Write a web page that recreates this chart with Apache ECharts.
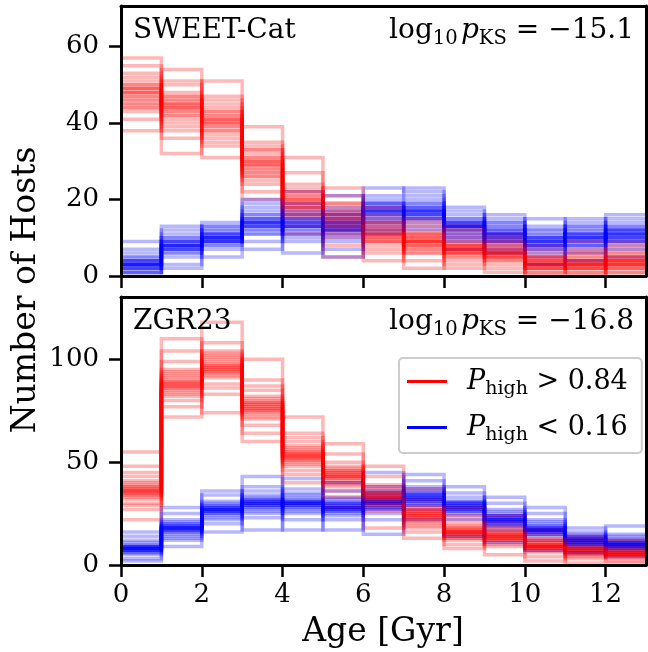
<!DOCTYPE html>
<html>
<head>
<meta charset="utf-8">
<script src="https://cdn.jsdelivr.net/npm/echarts@6/dist/echarts.min.js"></script>
<style>
  html, body { margin: 0; padding: 0; background: #fff; }
  #chart { width: 648px; height: 652px; }
</style>
</head>
<body>
<div id="chart"></div>
<script>
// Age bins (Gyr): 13 one-Gyr bins from 0 to 13
const AGE_EDGES = [0, 1, 2, 3, 4, 5, 6, 7, 8, 9, 10, 11, 12, 13];
const X_TICKS = [0, 2, 4, 6, 8, 10, 12];
const Y_TICKS_SWEET = [0, 20, 40, 60];
const Y_TICKS_ZGR = [0, 50, 100];
const Y_MAX_SWEET = 70.6;
const Y_MAX_ZGR = 130.3;
const PANEL_LABELS = ['SWEET-Cat', 'ZGR23'];
const LOG_PKS = ['\u221215.1', '\u221216.8'];

// Host counts per age bin; each row is one bin, column r is realization r.
// SWEET-Cat, P_high > 0.84
const SWEET_HIGH = [
  [48, 45, 52, 47, 41, 50, 49, 44, 55, 46, 48, 51, 43, 47, 38, 49, 46, 53, 50, 45, 48, 57, 44, 49],
  [42, 47, 44, 39, 50, 45, 36, 43, 46, 41, 54, 44, 48, 40, 45, 32, 43, 47, 42, 51, 44, 38, 46, 45],
  [41, 37, 43, 40, 34, 45, 39, 42, 38, 47, 40, 31, 44, 41, 36, 39, 51, 42, 38, 40, 43, 35, 41, 46],
  [30, 26, 33, 28, 24, 31, 29, 35, 27, 22, 30, 32, 28, 39, 25, 29, 31, 20, 27, 34, 29, 26, 30, 33],
  [18, 21, 16, 20, 24, 17, 19, 13, 22, 18, 27, 20, 15, 19, 23, 11, 18, 21, 17, 31, 19, 16, 20, 22],
  [14, 17, 12, 15, 19, 10, 16, 14, 21, 13, 15, 8, 17, 16, 12, 23, 14, 18, 11, 15, 5, 16, 13, 19],
  [10, 13, 8, 11, 15, 9, 12, 11, 6, 14, 10, 18, 12, 7, 11, 13, 9, 16, 4, 12, 10, 14, 11, 9],
  [10, 7, 9, 12, 8, 11, 6, 9, 14, 8, 10, 4, 9, 11, 7, 13, 9, 2, 10, 8, 15, 9, 6, 11],
  [6, 8, 7, 5, 9, 7, 11, 6, 3, 8, 7, 10, 5, 13, 7, 6, 9, 4, 8, 2, 7, 12, 6, 8],
  [7, 5, 6, 9, 4, 6, 3, 8, 6, 11, 5, 7, 2, 6, 8, 5, 10, 4, 6, 1, 7, 5, 9, 6],
  [3, 4, 2, 3, 6, 1, 4, 2, 0, 5, 3, 8, 3, 2, 4, 5, 1, 7, 0, 3, 2, 5, 4, 3],
  [2, 4, 3, 1, 5, 3, 2, 6, 0, 4, 3, 9, 2, 3, 5, 1, 4, 7, 0, 3, 2, 4, 6, 3],
  [4, 3, 5, 2, 6, 3, 4, 1, 7, 3, 2, 9, 4, 5, 0, 3, 4, 6, 1, 3, 5, 2, 4, 8]
];
// SWEET-Cat, P_high < 0.16
const SWEET_LOW = [
  [3, 2, 4, 3, 1, 5, 2, 3, 7, 4, 0, 3, 2, 6, 3, 1, 4, 9, 2, 3, 5, 1, 3, 4],
  [8, 7, 9, 6, 10, 8, 5, 9, 12, 7, 8, 3, 9, 11, 7, 8, 6, 13, 8, 2, 9, 7, 10, 8],
  [10, 9, 11, 10, 8, 12, 9, 13, 10, 7, 11, 10, 9, 14, 11, 5, 10, 12, 9, 8, 11, 10, 13, 9],
  [13, 15, 14, 12, 17, 14, 11, 16, 13, 19, 14, 9, 15, 13, 16, 7, 14, 12, 18, 15, 13, 20, 14, 11],
  [14, 12, 16, 13, 15, 10, 14, 18, 13, 11, 15, 22, 14, 9, 16, 13, 12, 19, 6, 14, 15, 11, 17, 13],
  [12, 14, 11, 13, 16, 9, 13, 15, 12, 18, 10, 13, 14, 21, 12, 7, 15, 11, 13, 17, 5, 14, 12, 16],
  [17, 16, 19, 15, 18, 17, 14, 20, 16, 13, 18, 17, 23, 15, 19, 11, 17, 16, 21, 14, 18, 17, 12, 19],
  [16, 18, 17, 15, 19, 17, 14, 20, 16, 18, 13, 17, 22, 16, 19, 15, 12, 17, 21, 18, 16, 23, 17, 15],
  [14, 11, 13, 16, 12, 13, 10, 15, 13, 7, 14, 12, 17, 13, 11, 14, 9, 13, 18, 12, 15, 13, 10, 14],
  [12, 9, 11, 14, 10, 8, 13, 11, 16, 10, 12, 6, 11, 9, 13, 10, 15, 11, 7, 12, 10, 14, 9, 11],
  [8, 10, 12, 9, 7, 11, 9, 5, 10, 8, 13, 9, 3, 10, 8, 11, 9, 15, 7, 9, 12, 6, 10, 8],
  [11, 9, 10, 13, 8, 10, 12, 7, 11, 15, 9, 10, 6, 12, 10, 8, 11, 4, 13, 9, 10, 14, 11, 8],
  [10, 12, 11, 8, 14, 11, 9, 13, 5, 12, 10, 11, 15, 9, 12, 10, 7, 11, 13, 16, 10, 11, 9, 12]
];
// ZGR23, P_high > 0.84
const ZGR_HIGH = [
  [36, 33, 40, 35, 30, 38, 43, 34, 37, 27, 39, 36, 48, 32, 35, 41, 22, 37, 34, 45, 38, 29, 55, 36],
  [88, 84, 92, 86, 95, 80, 89, 91, 77, 87, 99, 85, 90, 82, 88, 104, 72, 93, 86, 89, 110, 83, 94, 87],
  [97, 92, 101, 95, 88, 104, 96, 99, 83, 94, 108, 97, 91, 100, 74, 96, 103, 93, 118, 98, 86, 95, 102, 94],
  [76, 80, 73, 78, 85, 71, 77, 82, 68, 79, 75, 90, 77, 64, 81, 74, 78, 100, 72, 76, 87, 60, 79, 75],
  [54, 50, 57, 52, 48, 60, 53, 46, 55, 51, 64, 53, 44, 56, 52, 72, 49, 54, 58, 40, 53, 51, 62, 55],
  [42, 45, 40, 47, 43, 38, 50, 44, 36, 46, 41, 54, 43, 33, 45, 42, 48, 28, 44, 59, 40, 46, 43, 39],
  [31, 35, 33, 28, 38, 34, 30, 36, 43, 33, 26, 35, 32, 39, 33, 18, 34, 30, 37, 33, 48, 29, 35, 32],
  [23, 26, 21, 25, 29, 20, 24, 27, 18, 25, 22, 32, 24, 16, 26, 23, 37, 19, 24, 13, 27, 22, 25, 28],
  [15, 18, 16, 13, 20, 16, 14, 17, 10, 22, 16, 19, 8, 15, 17, 14, 24, 16, 12, 18, 15, 28, 16, 13],
  [13, 15, 12, 16, 14, 19, 11, 14, 17, 9, 15, 13, 21, 14, 10, 16, 12, 24, 14, 5, 15, 13, 18, 12],
  [9, 8, 11, 7, 10, 13, 9, 6, 10, 8, 15, 9, 4, 11, 9, 12, 7, 17, 9, 2, 10, 8, 12, 9],
  [7, 6, 8, 5, 9, 7, 11, 6, 8, 4, 7, 10, 6, 14, 7, 3, 8, 6, 12, 7, 1, 8, 5, 9],
  [6, 5, 7, 4, 6, 8, 5, 3, 6, 9, 5, 7, 2, 6, 10, 5, 4, 7, 12, 6, 1, 5, 8, 6]
];
// ZGR23, P_high < 0.16
const ZGR_LOW = [
  [8, 7, 9, 6, 10, 8, 5, 9, 12, 7, 8, 3, 9, 11, 7, 8, 6, 14, 8, 2, 9, 7, 16, 8],
  [18, 16, 20, 17, 19, 14, 18, 22, 17, 12, 19, 18, 25, 16, 20, 9, 18, 21, 15, 28, 17, 19, 13, 18],
  [26, 28, 25, 29, 27, 23, 31, 27, 24, 30, 26, 34, 27, 20, 28, 25, 29, 16, 27, 36, 26, 28, 22, 27],
  [31, 28, 30, 33, 29, 26, 32, 30, 36, 28, 31, 23, 30, 34, 29, 17, 31, 27, 38, 30, 43, 29, 25, 32],
  [29, 32, 30, 27, 34, 30, 25, 31, 29, 37, 28, 30, 22, 33, 30, 42, 28, 31, 17, 30, 35, 29, 26, 31],
  [28, 26, 30, 27, 29, 24, 31, 28, 33, 27, 22, 29, 28, 36, 26, 30, 17, 28, 32, 25, 40, 28, 27, 30],
  [30, 33, 28, 31, 27, 35, 30, 25, 32, 29, 38, 30, 22, 31, 34, 28, 45, 30, 15, 32, 29, 36, 27, 31],
  [32, 34, 31, 35, 33, 29, 36, 32, 38, 31, 27, 34, 33, 41, 30, 35, 22, 33, 37, 31, 44, 32, 29, 34],
  [27, 30, 28, 25, 31, 28, 33, 26, 29, 22, 30, 28, 35, 27, 24, 30, 28, 38, 26, 14, 29, 31, 27, 29],
  [22, 20, 24, 21, 23, 19, 25, 22, 27, 21, 17, 23, 22, 30, 20, 24, 11, 22, 26, 19, 33, 22, 21, 24],
  [17, 19, 16, 18, 15, 20, 17, 14, 18, 22, 16, 17, 12, 19, 17, 25, 15, 18, 7, 17, 21, 16, 28, 17],
  [12, 11, 13, 10, 12, 14, 11, 9, 13, 12, 16, 11, 8, 12, 14, 10, 18, 12, 6, 13, 11, 15, 12, 10],
  [10, 9, 11, 12, 8, 10, 13, 9, 11, 7, 10, 15, 9, 12, 10, 4, 11, 14, 10, 19, 9, 11, 8, 10]
];

const FONT = '"DejaVu Serif", "Liberation Serif", serif';
const RED = '#ff0000';
const BLUE = '#0000ff';
const NAME_HIGH = 'Phigh>0.84';
const NAME_LOW = 'Phigh<0.16';
const LINE_ALPHA = 0.28;
const LINE_WIDTH = 3.5;

// Turn per-bin sample rows into step-histogram polylines, one per realization.
function realizations(rows) {
  const n = rows[0].length;
  const last = rows.length - 1;
  const out = [];
  for (let r = 0; r < n; r++) {
    const pts = [];
    rows.forEach((row, b) => pts.push([AGE_EDGES[b], row[r]]));
    pts.push([AGE_EDGES[last + 1], rows[last][r]]);
    out.push(pts);
  }
  return out;
}

function histSeries(name, color, data, axisIndex) {
  return {
    type: 'line', name, data, step: 'end', symbol: 'none',
    xAxisIndex: axisIndex, yAxisIndex: axisIndex,
    silent: true, animation: false, emphasis: { disabled: true },
    itemStyle: { color },
    lineStyle: { color, width: LINE_WIDTH, opacity: LINE_ALPHA, join: 'miter' },
    z: 2
  };
}

const series = [];
[[SWEET_HIGH, SWEET_LOW, 0], [ZGR_HIGH, ZGR_LOW, 2]].forEach(([hi, lo, ax]) => {
  const hiLines = realizations(hi);
  const loLines = realizations(lo);
  for (let r = 0; r < hiLines.length; r++) {
    series.push(histSeries(NAME_HIGH, RED, hiLines[r], ax));
    series.push(histSeries(NAME_LOW, BLUE, loLines[r], ax));
  }
});

const spine = { show: true, onZero: false, lineStyle: { color: '#000', width: 3 } };
const tickStyle = { color: '#000', width: 2.5 };
const labelFont = { color: '#000', fontFamily: FONT, fontSize: 26 };

function xBottom(gridIndex, withLabels) {
  return {
    type: 'value', gridIndex, min: 0, max: 13, position: 'bottom', z: 10,
    axisLine: spine,
    axisTick: { show: true, inside: false, length: 12, lineStyle: tickStyle, customValues: X_TICKS },
    axisLabel: Object.assign({ show: withLabels, margin: 17, customValues: X_TICKS }, labelFont),
    splitLine: { show: false }
  };
}
function xTop(gridIndex) {
  return {
    type: 'value', gridIndex, min: 0, max: 13, position: 'top', z: 10,
    axisLine: spine, axisTick: { show: false }, axisLabel: { show: false }, splitLine: { show: false }
  };
}
function yLeft(gridIndex, max, ticks) {
  return {
    type: 'value', gridIndex, min: 0, max, position: 'left', z: 10,
    axisLine: spine,
    axisTick: { show: true, inside: false, length: 12, lineStyle: tickStyle, customValues: ticks },
    axisLabel: Object.assign({ margin: 22, customValues: ticks }, labelFont),
    splitLine: { show: false }
  };
}
function yRight(gridIndex, max) {
  return {
    type: 'value', gridIndex, min: 0, max, position: 'right', z: 10,
    axisLine: spine, axisTick: { show: false }, axisLabel: { show: false }, splitLine: { show: false }
  };
}

// Rich styles for the math-style annotations (log10 p_KS and P_high)
const mathRich = {
  rm: { fontFamily: FONT, fontSize: 28, color: '#000', lineHeight: 34 },
  it: { fontFamily: FONT, fontSize: 28, fontStyle: 'italic', color: '#000', lineHeight: 34 },
  sub: { fontFamily: FONT, fontSize: 19.6, color: '#000', lineHeight: 34, padding: [16, 0, 0, 0] },
  gap: { fontFamily: FONT, fontSize: 10, color: '#000', lineHeight: 34 }
};

function pksText(v) {
  return '{rm|log}{sub|10}{gap| }{it|p}{sub|KS}{rm| = ' + v + '}';
}

const panelTops = [6, 297];
const graphic = [];
PANEL_LABELS.forEach((label, i) => {
  graphic.push({
    type: 'text', x: 133, y: panelTops[i] + 25, z: 20,
    style: { text: label, fontFamily: FONT, fontSize: 28, fill: '#000', textAlign: 'left', textVerticalAlign: 'middle' }
  });
  graphic.push({
    type: 'text', x: 634, y: panelTops[i] + 25, z: 20,
    style: { text: pksText(LOG_PKS[i]), rich: mathRich, fill: '#000', textAlign: 'right', textVerticalAlign: 'middle' }
  });
});
graphic.push({
  type: 'text', x: 26, y: 290, rotation: Math.PI / 2, z: 20,
  style: { text: 'Number of Hosts', fontFamily: FONT, fontSize: 33, fill: '#000', textAlign: 'center', textVerticalAlign: 'middle' }
});
graphic.push({
  type: 'text', x: 383, y: 632, z: 20,
  style: { text: 'Age [Gyr]', fontFamily: FONT, fontSize: 33, fill: '#000', textAlign: 'center', textVerticalAlign: 'middle' }
});

const legendRich = {
  it: { fontFamily: FONT, fontSize: 27, fontStyle: 'italic', color: '#000', lineHeight: 34, padding: [0, 0, 0, 15] },
  sub: { fontFamily: FONT, fontSize: 19, color: '#000', lineHeight: 34, padding: [16, 0, 0, 0] },
  rm: { fontFamily: FONT, fontSize: 27, color: '#000', lineHeight: 34 }
};

const option = {
  backgroundColor: '#fff',
  animation: false,
  grid: [
    { left: 121, top: 6, width: 525, height: 270, containLabel: false },
    { left: 121, top: 297, width: 525, height: 268, containLabel: false }
  ],
  xAxis: [xBottom(0, false), xTop(0), xBottom(1, true), xTop(1)],
  yAxis: [yLeft(0, Y_MAX_SWEET, Y_TICKS_SWEET), yRight(0, Y_MAX_SWEET), yLeft(1, Y_MAX_ZGR, Y_TICKS_ZGR), yRight(1, Y_MAX_ZGR)],
  legend: {
    orient: 'vertical', left: 399, top: 358, z: 20,
    padding: [6, 14, 8, 8], itemGap: 11,
    itemWidth: 40, itemHeight: 3,
    backgroundColor: 'rgba(255,255,255,0.8)', borderColor: '#cccccc', borderWidth: 2, borderRadius: 4,
    selectedMode: false,
    data: [
      { name: NAME_HIGH, icon: 'rect', itemStyle: { color: RED, opacity: 1 } },
      { name: NAME_LOW, icon: 'rect', itemStyle: { color: BLUE, opacity: 1 } }
    ],
    formatter: name => name === NAME_HIGH
      ? '{it|P}{sub|high}{rm| > 0.84}'
      : '{it|P}{sub|high}{rm| < 0.16}',
    textStyle: { fontFamily: FONT, fontSize: 27, color: '#000', rich: legendRich }
  },
  graphic,
  series
};

const chart = echarts.init(document.getElementById('chart'), null, { renderer: 'canvas' });
chart.setOption(option);
</script>
</body>
</html>
